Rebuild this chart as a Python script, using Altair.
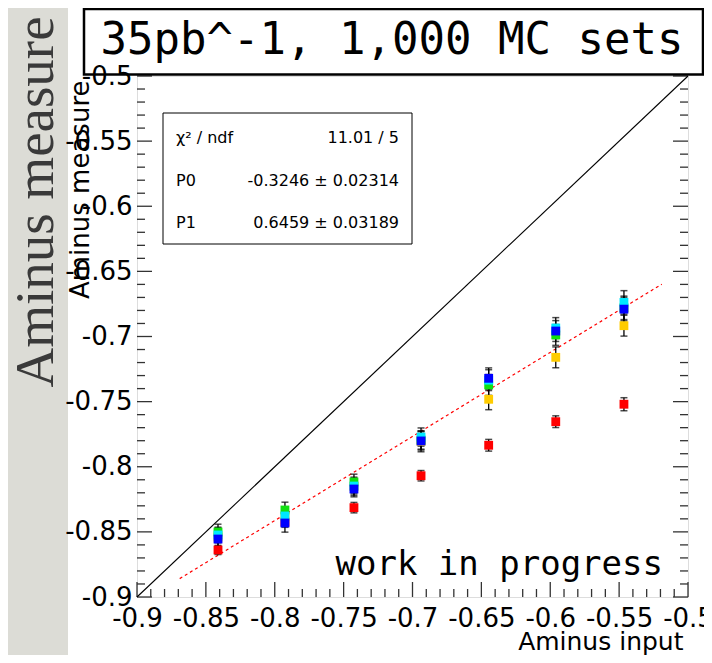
import altair as alt
import pandas as pd

# ---------------- data ----------------
x_input = [-0.8412, -0.7926, -0.7425, -0.6938, -0.6447, -0.5960, -0.5465]
series_names = ["red", "yellow", "green", "cyan", "blue"]
series_colors = ["#ff0000", "#ffcc00", "#10e010", "#00e8ff", "#0000ff"]
y_red = [-0.8639, -0.8425, -0.8314, -0.8069, -0.7835, -0.7654, -0.7520]
y_yellow = [-0.8540, -0.8380, -0.8150, -0.7805, -0.7482, -0.7160, -0.6917]
y_green = [-0.8501, -0.8332, -0.8117, -0.7795, -0.7372, -0.6988, -0.6780]
y_cyan = [-0.8524, -0.8378, -0.8148, -0.7772, -0.7335, -0.6935, -0.6738]
y_blue = [-0.8555, -0.8432, -0.8171, -0.7802, -0.7321, -0.6958, -0.6790]
e_red = [0.0035, 0.004, 0.004, 0.004, 0.0045, 0.0045, 0.005]
e_yellow = [0.007, 0.007, 0.007, 0.008, 0.008, 0.008, 0.008]
e_green = [0.006, 0.006, 0.006, 0.007, 0.008, 0.008, 0.009]
e_cyan = [0.006, 0.006, 0.006, 0.007, 0.008, 0.008, 0.009]
e_blue = [0.006, 0.007, 0.006, 0.007, 0.008, 0.008, 0.009]

# linear fit (pol1) parameters shown in stats box
P0 = -0.3246
P1 = 0.6459
fit_range = [-0.869, -0.519]
diag_range = [-0.9, -0.5]

major_ticks = [-0.9, -0.85, -0.8, -0.75, -0.7, -0.65, -0.6, -0.55, -0.5]
minor_ticks = [round(-0.9 + 0.01 * i, 2) for i in range(41)]

stats_left = ["χ² / ndf", "P0", "P1"]
stats_right = ["11.01 / 5", "-0.3246 ± 0.02314", "0.6459 ± 0.03189"]

title_text = "35pb^-1, 1,000 MC sets"
wip_text = "work in progress"
side_text = "Aminus measure"

# ---------------- tables ----------------
rows = []
for name, ys, es in zip(series_names,
                        [y_red, y_yellow, y_green, y_cyan, y_blue],
                        [e_red, e_yellow, e_green, e_cyan, e_blue]):
    for xv, yv, ev in zip(x_input, ys, es):
        rows.append({"series": name, "x": xv, "y": yv, "lo": yv - ev, "hi": yv + ev})
pts = pd.DataFrame(rows)

fit_df = pd.DataFrame({"x": fit_range, "y": [P0 + P1 * v for v in fit_range]})
diag_df = pd.DataFrame({"x": diag_range, "y": diag_range})
major_df = pd.DataFrame({"v": major_ticks})
minor_df = pd.DataFrame({"v": [v for v in minor_ticks if all(abs(v - m) > 1e-6 for m in major_ticks)]})
one = pd.DataFrame({"a": [0]})

W, H = 551, 521
DOM = [-0.9, -0.5]
xs = alt.Scale(domain=DOM, nice=False, zero=False)
ys_ = alt.Scale(domain=DOM, nice=False, zero=False)

x_axis = alt.Axis(values=major_ticks, labelExpr="'' + datum.value", ticks=False, domain=False,
                  grid=False, labelFont="DejaVu Sans", labelFontSize=26, labelColor="black",
                  labelPadding=8, labelFlush=False, labelOverlap=False,
                  title="Aminus input", titleFont="DejaVu Sans", titleFontSize=25,
                  titleFontWeight="normal", titleColor="black", titleX=546, titleY=52,
                  titleAlign="right", titleBaseline="alphabetic", zindex=1)
y_axis = alt.Axis(values=major_ticks, labelExpr="'' + datum.value", ticks=False, domain=False,
                  grid=False, labelFont="DejaVu Sans", labelFontSize=26, labelColor="black",
                  labelPadding=5, labelFlush=False, labelOverlap=False,
                  title="Aminus measure", titleFont="DejaVu Sans", titleFontSize=26,
                  titleFontWeight="normal", titleColor="black", titleAngle=270,
                  titleX=-49, titleY=4, titleAlign="right", titleBaseline="alphabetic", zindex=1)

# ---------------- decorations ----------------
strip = alt.Chart(one).mark_rect(color="#dcdcd6").encode(
    x=alt.value(-129), x2=alt.value(-69), y=alt.value(-68), y2=alt.value(579))

side = alt.Chart(one).mark_text(text=side_text, font="Liberation Serif", fontSize=55,
                                angle=270, align="center", baseline="alphabetic",
                                color="#3a3a3a").encode(x=alt.value(-84), y=alt.value(126))

title_box = alt.Chart(one).mark_rect(fill="white", stroke="black", strokeWidth=2.5).encode(
    x=alt.value(-53), x2=alt.value(566), y=alt.value(-67), y2=alt.value(-1.5))
title = alt.Chart(one).mark_text(text=title_text, font="DejaVu Sans Mono", fontSize=44,
                                 align="center", baseline="alphabetic", color="black").encode(
    x=alt.value(255), y=alt.value(-22))

stats_box = alt.Chart(one).mark_rect(fill="white", stroke="black", strokeWidth=1).encode(
    x=alt.value(26), x2=alt.value(275), y=alt.value(37), y2=alt.value(168))
stats_layers = []
for i, (lt, rt) in enumerate(zip(stats_left, stats_right)):
    by = [67, 110, 152][i]
    stats_layers.append(alt.Chart(one).mark_text(text=lt, font="DejaVu Sans", fontSize=16,
                                                 align="left", baseline="alphabetic",
                                                 color="black").encode(x=alt.value(39), y=alt.value(by)))
    stats_layers.append(alt.Chart(one).mark_text(text=rt, font="DejaVu Sans", fontSize=16,
                                                 align="right", baseline="alphabetic",
                                                 color="black").encode(x=alt.value(262), y=alt.value(by)))

wip = alt.Chart(one).mark_text(text=wip_text, font="DejaVu Sans Mono", fontSize=34,
                               align="right", baseline="alphabetic", color="black").encode(
    x=alt.value(526), y=alt.value(499))

# ---------------- ticks (inside, ROOT style) ----------------
tick_col = "#333333"
lt_major = alt.Chart(major_df).mark_rule(color=tick_col, strokeWidth=1.3).encode(
    y=alt.Y("v:Q", scale=ys_, axis=y_axis), x=alt.value(0), x2=alt.value(15))
lt_minor = alt.Chart(minor_df).mark_rule(color=tick_col, strokeWidth=1.3).encode(
    y=alt.Y("v:Q", scale=ys_), x=alt.value(0), x2=alt.value(8))
rt_major = alt.Chart(major_df).mark_rule(color=tick_col, strokeWidth=1.3).encode(
    y=alt.Y("v:Q", scale=ys_), x=alt.value(W - 15), x2=alt.value(W))
rt_minor = alt.Chart(minor_df).mark_rule(color=tick_col, strokeWidth=1.3).encode(
    y=alt.Y("v:Q", scale=ys_), x=alt.value(W - 8), x2=alt.value(W))
bt_major = alt.Chart(major_df).mark_rule(color=tick_col, strokeWidth=1.3).encode(
    x=alt.X("v:Q", scale=xs, axis=x_axis), y=alt.value(H - 15), y2=alt.value(H))
bt_minor = alt.Chart(minor_df).mark_rule(color=tick_col, strokeWidth=1.3).encode(
    x=alt.X("v:Q", scale=xs), y=alt.value(H - 8), y2=alt.value(H))

# ---------------- data marks ----------------
diag = alt.Chart(diag_df).mark_line(color="black", strokeWidth=1.1).encode(
    x=alt.X("x:Q", scale=xs), y=alt.Y("y:Q", scale=ys_))
fit = alt.Chart(fit_df).mark_line(color="#ff0000", strokeWidth=1.2, strokeDash=[3, 3]).encode(
    x=alt.X("x:Q", scale=xs), y=alt.Y("y:Q", scale=ys_))

err = alt.Chart(pts).mark_rule(color="black", strokeWidth=1.3).encode(
    x=alt.X("x:Q", scale=xs), y=alt.Y("lo:Q", scale=ys_), y2="hi:Q")
cap_lo = alt.Chart(pts).mark_tick(color="black", orient="horizontal", size=7, thickness=1.5).encode(
    x=alt.X("x:Q", scale=xs), y=alt.Y("lo:Q", scale=ys_))
cap_hi = alt.Chart(pts).mark_tick(color="black", orient="horizontal", size=7, thickness=1.5).encode(
    x=alt.X("x:Q", scale=xs), y=alt.Y("hi:Q", scale=ys_))

squares = alt.Chart(pts).mark_square(size=78, opacity=1, filled=True).encode(
    x=alt.X("x:Q", scale=xs), y=alt.Y("y:Q", scale=ys_),
    color=alt.Color("series:N", scale=alt.Scale(domain=series_names, range=series_colors), legend=None))

chart = alt.layer(
    strip, side, lt_major, lt_minor, rt_major, rt_minor, bt_major, bt_minor,
    diag, fit, stats_box, *stats_layers, err, cap_lo, cap_hi, squares, wip,
    title_box, title,
).properties(
    width=W, height=H,
    padding={"left": 129, "top": 68, "right": 16, "bottom": 58},
    autosize=alt.AutoSizeParams(type="none"),
).configure_view(stroke="black", strokeWidth=2).configure(background="white")

chart.save("out.html", embed_options={"renderer": "svg", "actions": False})
